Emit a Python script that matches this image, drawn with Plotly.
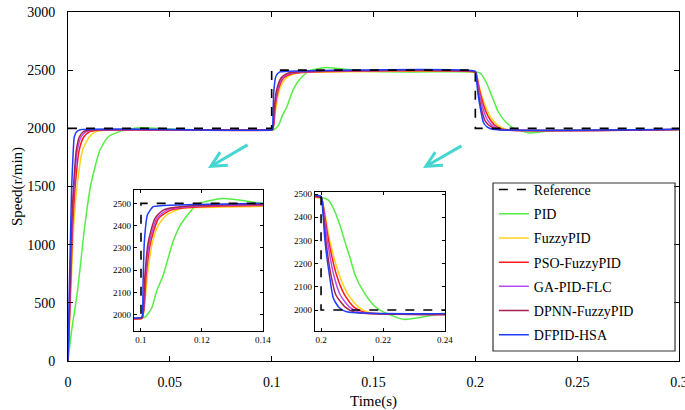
import plotly.graph_objects as go

# ---------------- data ----------------
t_ref = [0, 0.1, 0.1, 0.2, 0.2, 0.3]
v_ref = [2000, 2000, 2500, 2500, 2000, 2000]

t_pid = [0, 0.0018, 0.0043, 0.0062, 0.008, 0.011, 0.0157, 0.0198, 0.0272, 0.036, 0.05, 0.065, 0.1,
         0.1013, 0.1035, 0.1051, 0.1073, 0.1089, 0.1105, 0.1129, 0.1171, 0.1192, 0.1268, 0.14, 0.15, 0.17, 0.2,
         0.2024, 0.204, 0.2061, 0.2077, 0.2094, 0.211, 0.2137, 0.2169, 0.219, 0.2266, 0.24, 0.26, 0.3]
v_pid = [0, 266, 553, 840, 1126, 1498, 1814, 1928, 1983, 2005, 1995, 1987, 1987,
         1990, 2030, 2105, 2179, 2254, 2328, 2403, 2478, 2500, 2522, 2500, 2488, 2485, 2485,
         2474, 2438, 2366, 2295, 2223, 2151, 2079, 2022, 2000, 1960, 1986, 1988, 1988]

t_fuzzy = [0, 0.0012, 0.0027, 0.0044, 0.0072, 0.0105, 0.0135, 0.019, 0.1,
           0.1004, 0.1011, 0.1021, 0.1038, 0.1057, 0.1084, 0.1133, 0.12, 0.2,
           0.2005, 0.2029, 0.2059, 0.2088, 0.212, 0.2155, 0.3]
v_fuzzy = [0, 500, 1126, 1498, 1814, 1928, 1970, 1984, 1984,
           1986, 2030, 2179, 2328, 2403, 2448, 2478, 2482, 2482,
           2470, 2295, 2151, 2065, 2014, 1990, 1990]

t_pso = [0, 0.001, 0.0022, 0.0035, 0.0055, 0.0078, 0.0105, 0.015, 0.1,
         0.1004, 0.101, 0.1017, 0.1032, 0.1058, 0.1098, 0.117, 0.2,
         0.2004, 0.2025, 0.205, 0.2076, 0.2105, 0.2142, 0.3]
v_pso = [0, 500, 1126, 1498, 1814, 1928, 1970, 1983, 1983,
         1985, 2030, 2179, 2328, 2433, 2470, 2483, 2483,
         2470, 2295, 2151, 2065, 2014, 1990, 1990]

t_ga = [0, 0.0009, 0.0019, 0.003, 0.0046, 0.0065, 0.0088, 0.013, 0.1,
        0.1004, 0.1009, 0.1015, 0.1028, 0.1052, 0.1085, 0.115, 0.2,
        0.2004, 0.2021, 0.2041, 0.2062, 0.2091, 0.2126, 0.3]
v_ga = [0, 500, 1126, 1498, 1814, 1928, 1970, 1985, 1985,
        1987, 2030, 2179, 2328, 2433, 2470, 2485, 2485,
        2470, 2295, 2151, 2065, 2014, 1990, 1990]

t_dpnn = [0, 0.0008, 0.0017, 0.0027, 0.0041, 0.0056, 0.0075, 0.011, 0.1,
          0.1004, 0.1008, 0.1013, 0.1024, 0.1046, 0.1073, 0.1138, 0.2,
          0.2004, 0.2016, 0.2032, 0.2048, 0.2077, 0.211, 0.3]
v_dpnn = [0, 500, 1126, 1498, 1814, 1928, 1970, 1986, 1986,
          1988, 2030, 2179, 2328, 2433, 2470, 2486, 2486,
          2470, 2295, 2151, 2065, 2014, 1990, 1990]

t_hsa = [0, 0.0005, 0.0013, 0.0018, 0.0026, 0.0031, 0.0042, 0.006, 0.1,
         0.1004, 0.1007, 0.1011, 0.1021, 0.104, 0.1073, 0.2,
         0.2003, 0.2013, 0.2027, 0.204, 0.2059, 0.2083, 0.3]
v_hsa = [0, 500, 1126, 1498, 1814, 1928, 1970, 1988, 1988,
         1995, 2150, 2328, 2448, 2485, 2490, 2490,
         2470, 2295, 2151, 2050, 2010, 1993, 1993]

names = ["PID", "FuzzyPID", "PSO-FuzzyPID", "GA-PID-FLC", "DPNN-FuzzyPID", "DFPID-HSA"]
series_t = [t_pid, t_fuzzy, t_pso, t_ga, t_dpnn, t_hsa]
series_v = [v_pid, v_fuzzy, v_pso, v_ga, v_dpnn, v_hsa]
colors = ["#55EE44", "#FFD21E", "#FF1A1A", "#B84CF0", "#A8234E", "#1E3CFF"]

x_ticks_main = [0, 0.05, 0.1, 0.15, 0.2, 0.25, 0.3]
y_ticks_main = [0, 500, 1000, 1500, 2000, 2500, 3000]
inset_y_ticks = [2000, 2100, 2200, 2300, 2400, 2500]
inset1_x_ticks = [0.1, 0.12, 0.14]
inset2_x_ticks = [0.2, 0.22, 0.24]

SERIF = "Liberation Serif"

fig = go.Figure()

axes_sets = [("x", "y", True), ("x2", "y2", False), ("x3", "y3", False)]
for xa, ya, main in axes_sets:
    for i, (n, tt, vv, c) in enumerate(zip(names, series_t, series_v, colors)):
        fig.add_trace(go.Scatter(x=tt, y=vv, mode="lines", name=n, legendgroup=n,
                                 showlegend=main, xaxis=xa, yaxis=ya,
                                 line=dict(color=c, width=1.5, shape="spline", smoothing=0.6)))
    fig.add_trace(go.Scatter(x=t_ref, y=v_ref, mode="lines", name="Reference", legendgroup="Reference",
                             showlegend=main, xaxis=xa, yaxis=ya, legendrank=1,
                             line=dict(color="black", width=1.6, dash="dash")))

common_ax = dict(showgrid=False, zeroline=False, ticks="inside", mirror="ticks",
                 showline=True, linecolor="black", tickcolor="black", automargin=False,
                 ticklabeloverflow="allow")

fig.update_layout(
    width=685, height=410,
    margin=dict(l=68, r=6, t=12, b=49, autoexpand=False),
    paper_bgcolor="white", plot_bgcolor="white",
    font=dict(family=SERIF, color="black", size=14),
    xaxis=dict(domain=[0, 1], range=[0, 0.3], tickvals=x_ticks_main, ticklen=5,
               ticklabelstandoff=8,
               linewidth=1, title=dict(text="Time(s)", font=dict(size=15), standoff=14),
               tickfont=dict(size=14), **common_ax),
    yaxis=dict(domain=[0, 1], range=[0, 3000], tickvals=y_ticks_main, ticklen=5,
               ticklabelstandoff=9,
               linewidth=1, title=dict(text="Speed(r/min)", font=dict(size=15), standoff=0),
               tickfont=dict(size=14), **common_ax),
    xaxis2=dict(domain=[0.108, 0.319], range=[0.0977, 0.14], tickvals=inset1_x_ticks,
                anchor="y2", ticklen=3, linewidth=1.3, tickfont=dict(size=9), **common_ax),
    yaxis2=dict(domain=[0.086, 0.49], range=[1928, 2560], tickvals=inset_y_ticks,
                anchor="x2", ticklen=3, linewidth=1.3, tickfont=dict(size=9), **common_ax),
    xaxis3=dict(domain=[0.404, 0.617], range=[0.198, 0.24], tickvals=inset2_x_ticks,
                anchor="y3", ticklen=3, linewidth=1.3, tickfont=dict(size=9), **common_ax),
    yaxis3=dict(domain=[0.0868, 0.485], range=[1911, 2510], tickvals=inset_y_ticks,
                anchor="x3", ticklen=3, linewidth=1.3, tickfont=dict(size=9), **common_ax),
    legend=dict(x=0.697, y=0.536, xanchor="left", yanchor="top", bgcolor="rgba(0,0,0,0)",
                borderwidth=0, font=dict(family=SERIF, size=14, color="black"),
                traceorder="grouped", tracegroupgap=3, itemwidth=30),
    showlegend=True,
)

# legend frame
fig.add_shape(type="rect", xref="paper", yref="paper", x0=0.6956, x1=0.9935, y0=0.0287, y1=0.510,
              line=dict(color="#333333", width=1.2), fillcolor="rgba(0,0,0,0)")

# cyan arrows pointing to the zoomed insets
arrow_color = "#45D6CF"
for (tx, ty, hx, hy) in [(0.0889, 1865, 0.0687, 1659), (0.1939, 1857, 0.1743, 1659)]:
    fig.add_annotation(x=hx, y=hy, ax=tx, ay=ty, xref="x", yref="y", axref="x", ayref="y",
                       text="", showarrow=True, arrowhead=5, arrowwidth=3, arrowsize=1,
                       arrowcolor=arrow_color)

fig.write_html("out.html", config={"displayModeBar": False},
               post_script="document.body.style.margin='0px';")
